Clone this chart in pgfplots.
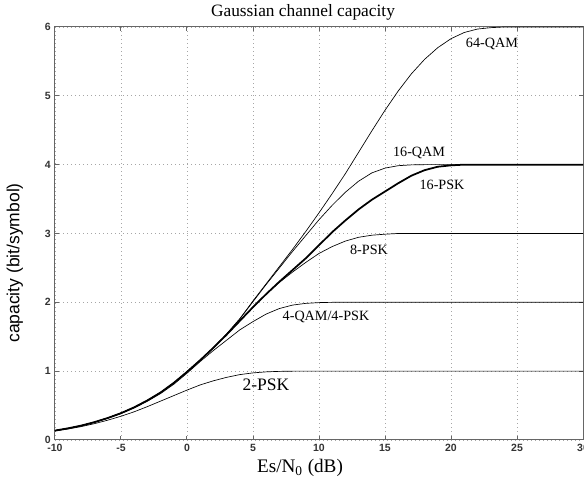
\documentclass[border=0pt]{standalone}
\usepackage{pgfplots}
\pgfplotsset{compat=1.18}
\usepackage{fontspec}
\setmainfont{Liberation Serif}
\setsansfont{Liberation Sans}

\begin{document}
\begin{tikzpicture}
\begin{axis}[
  scale only axis,
  width=316.8pt, height=247.8pt,
  xmin=-10, xmax=30, ymin=0, ymax=6,
  xtick={-10,-5,...,30}, ytick={0,1,...,6},
  grid=major,
  major grid style={black!35, dotted, line width=0.5pt},
  axis line style={black!60, line width=0.6pt},
  tick style={black!60, line width=0.6pt},
  major tick length=2.4pt,
  tick align=inside,
  /pgf/number format/assume math mode=true,
  ticklabel style={font=\sffamily\bfseries\fontsize{6.3}{7}\selectfont, text=black!80},
  xticklabel style={yshift=1pt},
  yticklabel style={xshift=1pt},
  title={Gaussian channel capacity},
  every axis title shift=0pt,
  title style={at={(axis description cs:0.4697,1.0363)}, anchor=center,
               font=\fontsize{10.4}{12}\selectfont},
  xlabel={Es/N\textsubscript{0} (dB)},
  xlabel style={at={(axis description cs:0.4640,-0.0678)}, anchor=center,
                font=\fontsize{11.5}{13}\selectfont},
  ylabel={capacity (bit/symbol)},
  ylabel style={at={(axis description cs:-0.0758,0.4286)}, anchor=center,
                rotate=0, font=\sffamily\fontsize{10.5}{12}\selectfont},
  cycle list={{black, solid, no markers, line width=1.05pt, line join=round}},
  clip=false,
]

% 2-PSK
\addplot coordinates {
  (-10,0.130) (-9,0.160) (-8,0.195) (-7,0.238) (-6,0.288) (-5,0.345)
  (-4,0.410) (-3,0.485) (-2,0.565) (-1,0.645) (0,0.725) (1,0.800)
  (2,0.860) (3,0.910) (4,0.950) (5,0.975) (6,0.990) (7,0.997) (8,1.0) (30,1.0)};

% 4-QAM / 4-PSK
\addplot coordinates {
  (-10,0.135) (-9,0.168) (-8,0.207) (-7,0.256) (-6,0.315) (-5,0.383)
  (-4,0.465) (-3,0.563) (-2,0.675) (-1,0.810) (0,0.970) (1,1.140)
  (2,1.300) (3,1.450) (4,1.600) (5,1.720) (6,1.830) (7,1.910) (8,1.960)
  (9,1.985) (10,1.996) (11,2.0) (30,2.0)};

% 8-PSK
\addplot coordinates {
  (-10,0.137) (-9,0.170) (-8,0.210) (-7,0.260) (-6,0.320) (-5,0.390)
  (-4,0.475) (-3,0.575) (-2,0.690) (-1,0.830) (0,0.990) (1,1.160)
  (2,1.340) (3,1.530) (4,1.730) (5,1.930) (6,2.120) (7,2.290) (8,2.440)
  (9,2.580) (10,2.710) (11,2.810) (12,2.890) (13,2.945) (14,2.975)
  (15,2.990) (16,3.0) (30,3.0)};

% 16-PSK
\addplot coordinates {
  (-10,0.137) (-9,0.170) (-8,0.210) (-7,0.260) (-6,0.320) (-5,0.390)
  (-4,0.475) (-3,0.575) (-2,0.690) (-1,0.830) (0,0.990) (1,1.160)
  (2,1.340) (3,1.530) (4,1.730) (5,1.930) (6,2.120) (7,2.300) (8,2.470)
  (9,2.640) (10,2.830) (11,3.020) (12,3.190) (13,3.350) (14,3.490)
  (15,3.610) (16,3.730) (17,3.840) (18,3.920) (19,3.970) (20,3.990)
  (21,4.0) (30,4.0)};

% 16-QAM
\addplot coordinates {
  (-10,0.137) (-9,0.170) (-8,0.210) (-7,0.260) (-6,0.320) (-5,0.390)
  (-4,0.475) (-3,0.575) (-2,0.690) (-1,0.830) (0,0.990) (1,1.160)
  (2,1.340) (3,1.540) (4,1.760) (5,2.010) (6,2.260) (7,2.500) (8,2.740)
  (9,2.970) (10,3.200) (11,3.410) (12,3.600) (13,3.760) (14,3.880)
  (15,3.950) (16,3.985) (17,3.997) (18,4.0) (30,4.0)};

% 64-QAM
\addplot coordinates {
  (-10,0.137) (-9,0.170) (-8,0.210) (-7,0.260) (-6,0.320) (-5,0.390)
  (-4,0.475) (-3,0.575) (-2,0.690) (-1,0.830) (0,0.990) (1,1.160)
  (2,1.340) (3,1.540) (4,1.760) (5,2.020) (6,2.270) (7,2.520) (8,2.770)
  (9,3.030) (10,3.300) (11,3.580) (12,3.870) (13,4.180) (14,4.490)
  (15,4.790) (16,5.070) (17,5.320) (18,5.530) (19,5.700) (20,5.830)
  (21,5.920) (22,5.970) (23,5.990) (24,6.0) (30,6.0)};

% curve names
\begin{scope}[every node/.style={font=\fontsize{8.5}{10}\selectfont, inner sep=0pt}]
  \node at (axis cs:23.1,5.76) {64-QAM};
  \node at (axis cs:17.58,4.17) {16-QAM};
  \node at (axis cs:19.32,3.71) {16-PSK};
  \node at (axis cs:13.79,2.76) {8-PSK};
  \node at (axis cs:10.53,1.79) {4-QAM/4-PSK};
  \node[font=\fontsize{10.5}{12}\selectfont] at (axis cs:5.98,0.80) {2-PSK};
\end{scope}
\end{axis}
\pgfresetboundingbox
\path[use as bounding box]
  ([xshift=-33pt,yshift=-24pt]current axis.south west)
  rectangle ([xshift=0.6pt,yshift=16.2pt]current axis.north east);
\end{tikzpicture}
\end{document}
